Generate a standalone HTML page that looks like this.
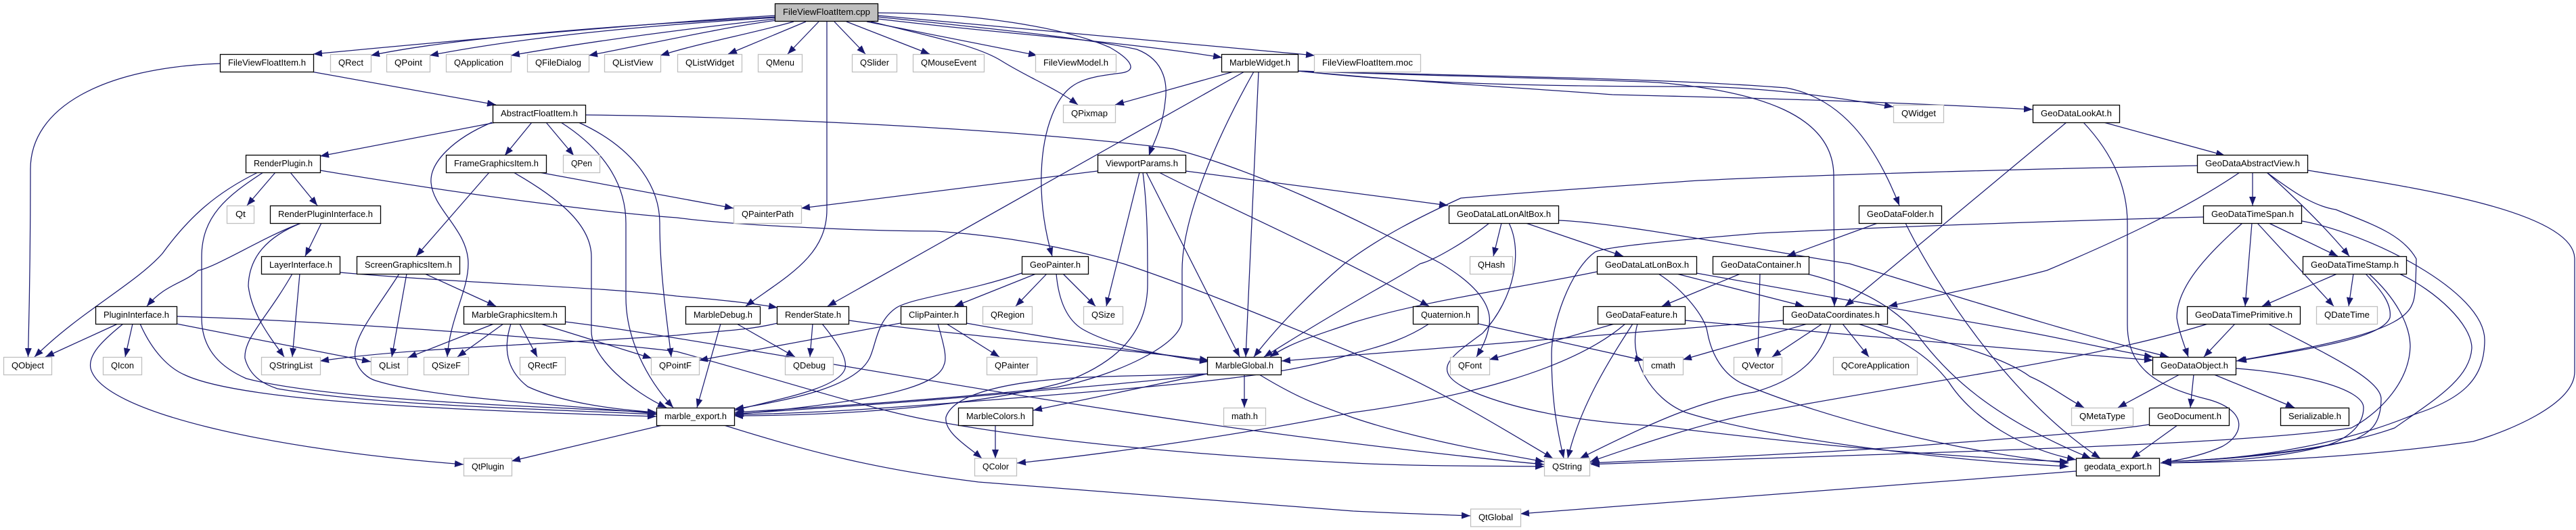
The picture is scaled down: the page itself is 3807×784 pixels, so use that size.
<!DOCTYPE html>
<html><head><meta charset="utf-8"><style>
html,body{margin:0;padding:0;background:#fff}
svg{display:block}
.e path{fill:none;stroke:#191970;stroke-width:1.25}
.d rect{fill:#fff;stroke:#000;stroke-width:1.3}
.x rect{fill:#fff;stroke:#bfbfbf;stroke-width:1.3}
text{font-family:"Liberation Sans",sans-serif;font-size:13px;text-anchor:middle;fill:#000;lengthAdjust:spacingAndGlyphs}
</style></head><body>
<svg xmlns="http://www.w3.org/2000/svg" width="3807" height="784" viewBox="0 0 3807 784">
<defs><marker id="a" markerUnits="userSpaceOnUse" markerWidth="14" markerHeight="10" refX="13" refY="5" orient="auto"><path d="M0,0 L13,5 L0,10 z" fill="#191970"/></marker></defs>
<g class="e" marker-end="url(#a)">
<!-- root -->
<path marker-end="url(#a)" d="M1146,23 C1000,31 650,62 463,80"/>
<path marker-end="url(#a)" d="M1146,25 C1000,33 700,50 548,82"/>
<path marker-end="url(#a)" d="M1146,26 C1000,35 800,50 635,82"/>
<path marker-end="url(#a)" d="M1146,28 C1020,42 880,60 755,82"/>
<path marker-end="url(#a)" d="M1148,30 C1070,40 960,65 870,82"/>
<path marker-end="url(#a)" d="M1173,32 C1110,50 1040,62 976,82"/>
<path marker-end="url(#a)" d="M1191,32 L1076,80"/>
<path marker-end="url(#a)" d="M1210,32 L1164,80"/>
<path marker-end="url(#a)" d="M1222,32 C1222,100 1222,250 1222,310 C1222,380 1160,410 1102,453"/>
<path marker-end="url(#a)" d="M1233,32 L1279,80"/>
<path marker-end="url(#a)" d="M1251,32 L1374,80"/>
<path marker-end="url(#a)" d="M1281,32 L1533,82"/>
<path marker-end="url(#a)" d="M1287,32 C1380,55 1445,68 1480,90 C1520,115 1560,130 1593,155"/>
<path marker-end="url(#a)" d="M1298,19 C1440,19 1570,40 1640,70 C1675,90 1680,105 1657,108 C1600,115 1575,120 1555,170 C1535,220 1532,300 1555,379"/>
<path marker-end="url(#a)" d="M1298,25 C1440,40 1600,55 1680,73 C1725,90 1725,130 1722,150 C1718,190 1705,210 1698,230"/>
<path marker-end="url(#a)" d="M1298,28 C1480,50 1650,60 1806,85"/>
<path marker-end="url(#a)" d="M1298,23 L1943,82"/>
<!-- FileViewFloatItem.h -->
<path marker-end="url(#a)" d="M325,94 C150,100 45,160 45,250 C45,350 44,430 41.5,528"/>
<path marker-end="url(#a)" d="M460,106 L733,155"/>
<!-- AbstractFloatItem.h -->
<path marker-end="url(#a)" d="M733,181 L473,231"/>
<path marker-end="url(#a)" d="M786,181 L746,230"/>
<path marker-end="url(#a)" d="M807,181 L848,230"/>
<path marker-end="url(#a)" d="M727,181 C670,205 635,240 637,270 C640,310 692,340 692,390 C692,430 665,470 661,528"/>
<path marker-end="url(#a)" d="M829,181 C890,220 925,270 925,330 L925,440 C925,500 955,560 995,603"/>
<path marker-end="url(#a)" d="M855,181 C930,215 975,270 975,330 C975,400 985,470 992,528"/>
<path marker-end="url(#a)" d="M865,170 C1100,172 1500,190 1733,220 C1850,250 2000,320 2130,390 C2180,420 2205,450 2201,480 C2198,500 2190,515 2182,528"/>
<!-- RenderPlugin.h -->
<path marker-end="url(#a)" d="M381,255 C320,285 280,320 240,375 C200,420 120,460 51,528"/>
<path marker-end="url(#a)" d="M389,255 C335,290 298,320 298,380 L298,470 C298,520 330,545 364,560 C480,590 750,600 970,610"/>
<path marker-end="url(#a)" d="M407,255 L365,304"/>
<path marker-end="url(#a)" d="M429,255 L469,304"/>
<path marker-end="url(#a)" d="M473,252 C700,290 900,315 1000,322 C1100,335 1300,342 1383,342 C1500,350 1590,370 1660,390 C1750,420 1850,460 2000,522 C2120,570 2230,640 2295,678"/>
<!-- RenderPluginInterface.h -->
<path marker-end="url(#a)" d="M475,330 L451,379"/>
<path marker-end="url(#a)" d="M445,330 C390,350 320,395 293,400 C270,420 245,420 217,453"/>
<path marker-end="url(#a)" d="M445,330 C395,350 368,380 367,423 C372,465 400,500 420,528"/>
<!-- LayerInterface.h -->
<path marker-end="url(#a)" d="M443,405 L432,528"/>
<path marker-end="url(#a)" d="M432,405 C395,470 360,500 362,530 C370,560 395,570 410,575 C560,600 800,605 970,613"/>
<path marker-end="url(#a)" d="M502,403 C700,420 900,425 1000,438 C1060,443 1110,448 1149,455"/>
<!-- ScreenGraphicsItem.h -->
<path marker-end="url(#a)" d="M601,405 L579,528"/>
<path marker-end="url(#a)" d="M590,405 C555,460 520,500 525,530 C530,550 545,560 555,563 C640,590 850,600 970,612"/>
<path marker-end="url(#a)" d="M628,405 L733,453"/>
<!-- MarbleGraphicsItem.h -->
<path marker-end="url(#a)" d="M730,479 L603,529"/>
<path marker-end="url(#a)" d="M744,479 L676,528"/>
<path marker-end="url(#a)" d="M755,479 C745,510 745,545 780,572 C830,595 900,605 970,610"/>
<path marker-end="url(#a)" d="M768,479 L794,528"/>
<path marker-end="url(#a)" d="M799,479 L963,530"/>
<path marker-end="url(#a)" d="M835,476 C1000,495 1500,590 1861,638 C1950,650 2150,675 2282,687"/>
<!-- FrameGraphicsItem.h -->
<path marker-end="url(#a)" d="M723,255 L615,379"/>
<path marker-end="url(#a)" d="M759,255 C820,290 874,330 874,380 L874,490 C874,530 935,580 985,603"/>
<path marker-end="url(#a)" d="M797,255 L1084,308"/>
<!-- PluginInterface.h -->
<path marker-end="url(#a)" d="M174,479 L67,528"/>
<path marker-end="url(#a)" d="M196,479 L185,528"/>
<path marker-end="url(#a)" d="M207,479 C225,520 250,545 274,555 C350,590 600,605 970,616"/>
<path marker-end="url(#a)" d="M182,479 C150,505 130,525 134,545 C150,610 400,665 685,687"/>
<path marker-end="url(#a)" d="M261,479 L548,535"/>
<path marker-end="url(#a)" d="M261,468 C500,475 880,505 1000,520 C1130,555 1300,610 1382,623 C1500,645 1700,670 2000,685 C2100,690 2200,689 2282,690"/>
<!-- ViewportParams.h -->
<path marker-end="url(#a)" d="M1622,253 L1184,308"/>
<path marker-end="url(#a)" d="M1684,255 L1635,453"/>
<path marker-end="url(#a)" d="M1689,255 C1696,310 1696,360 1696,420 C1696,500 1640,540 1574,565 C1450,600 1250,615 1085,615"/>
<path marker-end="url(#a)" d="M1694,255 L1832,528"/>
<path marker-end="url(#a)" d="M1713,255 C1800,300 1950,365 2112,453"/>
<path marker-end="url(#a)" d="M1752,253 C1850,265 2000,285 2140,304"/>
<!-- GeoPainter.h -->
<path marker-end="url(#a)" d="M1510,404 C1430,432 1350,440 1325,455 C1295,475 1295,510 1285,530 C1265,570 1180,590 1086,605"/>
<path marker-end="url(#a)" d="M1531,405 L1411,453"/>
<path marker-end="url(#a)" d="M1547,405 L1501,453"/>
<path marker-end="url(#a)" d="M1571,405 L1619,453"/>
<path marker-end="url(#a)" d="M1561,405 C1565,450 1580,475 1600,487 C1640,510 1710,525 1786,535"/>
<!-- ClipPainter.h -->
<path marker-end="url(#a)" d="M1331,478 L1033,533"/>
<path marker-end="url(#a)" d="M1386,479 C1395,510 1400,530 1395,540 C1385,575 1280,595 1086,613"/>
<path marker-end="url(#a)" d="M1399,479 L1477,528"/>
<path marker-end="url(#a)" d="M1428,478 C1550,500 1680,520 1786,533"/>
<!-- RenderState.h -->
<path marker-end="url(#a)" d="M1149,478 C1100,490 1050,490 1000,496 C800,510 600,515 473,534"/>
<path marker-end="url(#a)" d="M1201,479 L1197,528"/>
<path marker-end="url(#a)" d="M1215,479 C1240,510 1252,530 1249,545 C1240,575 1150,590 1086,607"/>
<path marker-end="url(#a)" d="M1255,474 C1400,495 1650,515 1786,533"/>
<!-- MarbleDebug.h -->
<path marker-end="url(#a)" d="M1089,479 L1175,528"/>
<path marker-end="url(#a)" d="M1065,479 L1030,603"/>
<!-- marble_export.h -->
<path marker-end="url(#a)" d="M979,629 L756,682"/>
<path marker-end="url(#a)" d="M1070,629 C1200,670 1300,695 1446,713 C1650,730 1850,745 2000,756 C2060,759 2120,761 2173,763"/>
<!-- MarbleGlobal.h -->
<path marker-end="url(#a)" d="M1784,553 C1700,565 1600,572 1510,580 C1350,595 1200,605 1086,612"/>
<path marker-end="url(#a)" d="M1784,553 C1700,556 1620,556 1574,560 C1500,565 1410,580 1398,617 C1395,640 1430,660 1451,678"/>
<path marker-end="url(#a)" d="M1784,553 L1527,607"/>
<path marker-end="url(#a)" d="M1861,554 C1920,590 1950,600 2000,618 C2080,645 2180,665 2282,683"/>
<path marker-end="url(#a)" d="M1839,554 L1839,603"/>
<!-- MarbleWidget.h -->
<path marker-end="url(#a)" d="M1823,106 L1648,155"/>
<path marker-end="url(#a)" d="M1839,106 L1223,453"/>
<path marker-end="url(#a)" d="M1860,106 L1841,528"/>
<path marker-end="url(#a)" d="M1853,106 C1800,200 1747,320 1747,400 L1747,473 C1747,510 1650,555 1561,573 C1400,590 1250,600 1086,610"/>
<path marker-end="url(#a)" d="M1918,105 C2100,125 2300,128 2510,128 C2620,130 2720,145 2798,158"/>
<path marker-end="url(#a)" d="M1918,105 C2100,122 2250,130 2383,140 C2500,143 2750,148 3004,162"/>
<path marker-end="url(#a)" d="M1918,105 C2150,112 2450,115 2640,130 C2720,145 2770,210 2807,304"/>
<path marker-end="url(#a)" d="M1918,105 C2100,112 2300,115 2450,122 C2600,135 2710,170 2710,260 L2711,453"/>
<!-- LatLonAltBox -->
<path marker-end="url(#a)" d="M2219,330 L2207,379"/>
<path marker-end="url(#a)" d="M2230,330 C2250,370 2240,440 2191,493 C2140,530 2110,550 2178,580 C2250,610 2350,625 2446,630 C2650,655 2850,675 3057,683"/>
<path marker-end="url(#a)" d="M2255,330 L2399,379"/>
<path marker-end="url(#a)" d="M2201,330 C2170,355 2120,385 2099,390 C2060,415 2000,445 1868,528"/>
<path marker-end="url(#a)" d="M2304,326 C2400,330 2600,370 2733,390 C2850,425 3050,490 3205,528"/>
<!-- LatLonBox -->
<path marker-end="url(#a)" d="M2360,402 C2250,425 2102,445 2000,477 C1950,495 1910,505 1877,528"/>
<path marker-end="url(#a)" d="M2478,405 L2666,453"/>
<path marker-end="url(#a)" d="M2507,404 C2650,430 2850,465 3000,492 C3070,505 3130,520 3182,528"/>
<path marker-end="url(#a)" d="M2451,405 C2490,430 2520,470 2523,490 C2530,530 2550,555 2574,567 C2700,620 2900,670 3057,685"/>
<!-- Container / Folder -->
<path marker-end="url(#a)" d="M2572,405 L2456,453"/>
<path marker-end="url(#a)" d="M2601,405 L2598,528"/>
<path marker-end="url(#a)" d="M2670,405 C2730,420 2790,445 2830,490 C2880,560 2950,620 3090,678"/>
<path marker-end="url(#a)" d="M2775,330 L2641,379"/>
<path marker-end="url(#a)" d="M2816,330 C2860,420 2970,590 3104,678"/>
<!-- Quaternion / Feature -->
<path marker-end="url(#a)" d="M2112,479 C2080,500 2050,510 2000,523 C1900,555 1800,565 1446,593 C1320,603 1200,612 1085,613"/>
<path marker-end="url(#a)" d="M2185,479 L2429,533"/>
<path marker-end="url(#a)" d="M2386,479 L2201,532"/>
<path marker-end="url(#a)" d="M2402,479 C2320,550 2150,590 2000,610 C1850,640 1650,670 1503,685"/>
<path marker-end="url(#a)" d="M2413,479 C2380,530 2335,600 2317,678"/>
<path marker-end="url(#a)" d="M2420,479 C2405,530 2440,590 2491,610 C2600,645 2850,680 3057,690"/>
<path marker-end="url(#a)" d="M2491,474 C2700,490 2950,515 3182,533"/>
<!-- Coordinates -->
<path marker-end="url(#a)" d="M2693,479 L2619,528"/>
<path marker-end="url(#a)" d="M2671,479 L2487,532"/>
<path marker-end="url(#a)" d="M2723,479 L2762,528"/>
<path marker-end="url(#a)" d="M2706,479 C2695,510 2680,555 2593,580 C2520,590 2440,625 2335,678"/>
<path marker-end="url(#a)" d="M2772,479 C2830,495 2950,520 3000,557 C3030,570 3055,590 3080,603"/>
<path marker-end="url(#a)" d="M2746,479 C2800,495 2850,525 2880,565 C2915,620 2990,665 3068,680"/>
<path marker-end="url(#a)" d="M2635,474 L1894,534"/>
<!-- LookAt -->
<path marker-end="url(#a)" d="M3109,181 L3288,230"/>
<path marker-end="url(#a)" d="M3054,181 L2727,453"/>
<path marker-end="url(#a)" d="M3079,181 C3125,230 3144,280 3144,330 L3144,480 C3144,540 3180,570 3260,590 C3320,605 3320,640 3285,660 C3260,672 3225,680 3193,685"/>
<!-- AbstractView -->
<path marker-end="url(#a)" d="M3247,245 C3000,250 2700,258 2510,267 C2350,278 2250,285 2159,293 C2100,320 2040,350 1987,390 C1940,430 1890,480 1853,528"/>
<path marker-end="url(#a)" d="M3329,255 L3329,304"/>
<path marker-end="url(#a)" d="M3350,255 C3400,300 3440,340 3472,379"/>
<path marker-end="url(#a)" d="M3350,255 C3390,285 3420,305 3452,310 C3500,330 3550,345 3571,383 C3570,420 3570,440 3565,450 C3550,490 3440,510 3305,534"/>
<path marker-end="url(#a)" d="M3310,255 C3230,310 3120,360 3025,400 C2950,420 2870,435 2791,453"/>
<path marker-end="url(#a)" d="M3411,252 C3550,275 3805,310 3805,383 L3805,550 C3805,600 3700,640 3655,653 C3500,675 3350,683 3196,685"/>
<!-- TimeSpan -->
<path marker-end="url(#a)" d="M3353,330 L3455,379"/>
<path marker-end="url(#a)" d="M3328,330 L3318,453"/>
<path marker-end="url(#a)" d="M3336,330 L3449,453"/>
<path marker-end="url(#a)" d="M3314,330 C3270,370 3217,420 3217,470 C3220,490 3228,510 3234,528"/>
<path marker-end="url(#a)" d="M3257,321 C3100,325 2800,335 2600,345 C2480,355 2370,365 2357,373 C2320,400 2293,480 2293,523 C2293,590 2300,630 2311,678"/>
<path marker-end="url(#a)" d="M3402,327 C3500,345 3672,430 3672,503 C3672,560 3640,590 3568,613 C3480,650 3350,680 3196,683"/>
<!-- TimeStamp -->
<path marker-end="url(#a)" d="M3454,405 L3343,453"/>
<path marker-end="url(#a)" d="M3478,405 L3471,453"/>
<path marker-end="url(#a)" d="M3496,405 C3520,430 3535,450 3532,470 C3520,500 3420,515 3307,534"/>
<path marker-end="url(#a)" d="M3501,405 C3540,440 3562,480 3562,513 C3560,570 3510,615 3475,633 C3300,660 2800,670 2351,687"/>
<path marker-end="url(#a)" d="M3546,405 C3600,430 3653,480 3653,515 C3650,560 3600,590 3539,633 C3450,665 3300,680 3196,683"/>
<!-- TimePrimitive -->
<path marker-end="url(#a)" d="M3303,479 L3257,528"/>
<path marker-end="url(#a)" d="M3263,479 C3100,530 2900,555 2600,610 C2520,625 2430,655 2350,683"/>
<path marker-end="url(#a)" d="M3352,479 C3430,520 3519,560 3519,590 C3519,630 3500,640 3481,650 C3400,670 3300,680 3196,683"/>
<!-- GeoDataObject -->
<path marker-end="url(#a)" d="M3221,554 L3130,603"/>
<path marker-end="url(#a)" d="M3242,554 L3237,603"/>
<path marker-end="url(#a)" d="M3272,554 L3391,603"/>
<path marker-end="url(#a)" d="M3305,545 C3400,552 3493,575 3493,603 C3493,635 3460,655 3423,663 C3350,680 3270,683 3196,685"/>
<!-- GeoDocument -->
<path marker-end="url(#a)" d="M3176,628 C3100,640 2950,650 2800,662 C2600,675 2450,680 2350,685"/>
<path marker-end="url(#a)" d="M3218,629 L3150,678"/>
<path marker-end="url(#a)" d="M3068,697 L2247,760"/>
<path marker-end="url(#a)" d="M1471,629 L1471,678"/>
</g>
<g class="x">
<rect x="488.5" y="80.5" width="60" height="26"/><text x="518.5" y="97" textLength="37" lengthAdjust="spacingAndGlyphs">QRect</text>
<rect x="571.5" y="80.5" width="64" height="26"/><text x="603.5" y="97" textLength="41" lengthAdjust="spacingAndGlyphs">QPoint</text>
<rect x="659.5" y="80.5" width="96" height="26"/><text x="707.5" y="97" textLength="73" lengthAdjust="spacingAndGlyphs">QApplication</text>
<rect x="779.5" y="80.5" width="91" height="26"/><text x="825" y="97" textLength="68" lengthAdjust="spacingAndGlyphs">QFileDialog</text>
<rect x="893.5" y="80.5" width="83" height="26"/><text x="935" y="97" textLength="60" lengthAdjust="spacingAndGlyphs">QListView</text>
<rect x="1001.5" y="80.5" width="95" height="26"/><text x="1049" y="97" textLength="72" lengthAdjust="spacingAndGlyphs">QListWidget</text>
<rect x="1120.5" y="80.5" width="65" height="26"/><text x="1153" y="97" textLength="42" lengthAdjust="spacingAndGlyphs">QMenu</text>
<rect x="1259.5" y="80.5" width="66" height="26"/><text x="1292.5" y="97" textLength="43" lengthAdjust="spacingAndGlyphs">QSlider</text>
<rect x="1349.5" y="80.5" width="105" height="26"/><text x="1402" y="97" textLength="82" lengthAdjust="spacingAndGlyphs">QMouseEvent</text>
<rect x="1530.5" y="80.5" width="119" height="26"/><text x="1590" y="97" textLength="96" lengthAdjust="spacingAndGlyphs">FileViewModel.h</text>
<rect x="1942.5" y="80.5" width="157" height="26"/><text x="2021" y="97" textLength="134" lengthAdjust="spacingAndGlyphs">FileViewFloatItem.moc</text>
<rect x="1571.5" y="155.5" width="77" height="26"/><text x="1610" y="172" textLength="54" lengthAdjust="spacingAndGlyphs">QPixmap</text>
<rect x="2798.5" y="155.5" width="74" height="26"/><text x="2835.5" y="172" textLength="51" lengthAdjust="spacingAndGlyphs">QWidget</text>
<rect x="832.5" y="229.5" width="54" height="26"/><text x="859.5" y="246" textLength="31" lengthAdjust="spacingAndGlyphs">QPen</text>
<rect x="335.5" y="304.5" width="40" height="26"/><text x="355.5" y="321" textLength="15" lengthAdjust="spacingAndGlyphs">Qt</text>
<rect x="1084.5" y="304.5" width="100" height="26"/><text x="1134.5" y="321" textLength="77" lengthAdjust="spacingAndGlyphs">QPainterPath</text>
<rect x="2172.5" y="379.5" width="63" height="26"/><text x="2204" y="396" textLength="40" lengthAdjust="spacingAndGlyphs">QHash</text>
<rect x="1452.5" y="453.5" width="73" height="26"/><text x="1489" y="470" textLength="50" lengthAdjust="spacingAndGlyphs">QRegion</text>
<rect x="1601.5" y="453.5" width="58" height="26"/><text x="1630.5" y="470" textLength="35" lengthAdjust="spacingAndGlyphs">QSize</text>
<rect x="3423.5" y="453.5" width="90" height="26"/><text x="3468.5" y="470" textLength="67" lengthAdjust="spacingAndGlyphs">QDateTime</text>
<rect x="5.5" y="528.5" width="71" height="26"/><text x="41" y="545" textLength="48" lengthAdjust="spacingAndGlyphs">QObject</text>
<rect x="152.5" y="528.5" width="57" height="26"/><text x="181" y="545" textLength="34" lengthAdjust="spacingAndGlyphs">QIcon</text>
<rect x="386.5" y="528.5" width="87" height="26"/><text x="430" y="545" textLength="64" lengthAdjust="spacingAndGlyphs">QStringList</text>
<rect x="548.5" y="528.5" width="54" height="26"/><text x="575.5" y="545" textLength="31" lengthAdjust="spacingAndGlyphs">QList</text>
<rect x="626.5" y="528.5" width="66" height="26"/><text x="659.5" y="545" textLength="43" lengthAdjust="spacingAndGlyphs">QSizeF</text>
<rect x="768.5" y="528.5" width="67" height="26"/><text x="802" y="545" textLength="44" lengthAdjust="spacingAndGlyphs">QRectF</text>
<rect x="962.5" y="528.5" width="71" height="26"/><text x="998" y="545" textLength="48" lengthAdjust="spacingAndGlyphs">QPointF</text>
<rect x="1160.5" y="528.5" width="71" height="26"/><text x="1196" y="545" textLength="48" lengthAdjust="spacingAndGlyphs">QDebug</text>
<rect x="1458.5" y="528.5" width="74" height="26"/><text x="1495.5" y="545" textLength="51" lengthAdjust="spacingAndGlyphs">QPainter</text>
<rect x="2143.5" y="528.5" width="58" height="26"/><text x="2172.5" y="545" textLength="35" lengthAdjust="spacingAndGlyphs">QFont</text>
<rect x="2428.5" y="528.5" width="59" height="26"/><text x="2458" y="545" textLength="36" lengthAdjust="spacingAndGlyphs">cmath</text>
<rect x="2562.5" y="528.5" width="71" height="26"/><text x="2598" y="545" textLength="48" lengthAdjust="spacingAndGlyphs">QVector</text>
<rect x="2709.5" y="528.5" width="124" height="26"/><text x="2771.5" y="545" textLength="101" lengthAdjust="spacingAndGlyphs">QCoreApplication</text>
<rect x="1808.5" y="603.5" width="62" height="26"/><text x="1839.5" y="620" textLength="39" lengthAdjust="spacingAndGlyphs">math.h</text>
<rect x="3061.5" y="603.5" width="91" height="26"/><text x="3107" y="620" textLength="68" lengthAdjust="spacingAndGlyphs">QMetaType</text>
<rect x="685.5" y="678" width="71" height="26"/><text x="721" y="694.5" textLength="48" lengthAdjust="spacingAndGlyphs">QtPlugin</text>
<rect x="1440.5" y="678" width="62" height="26"/><text x="1471.5" y="694.5" textLength="39" lengthAdjust="spacingAndGlyphs">QColor</text>
<rect x="2282.5" y="678" width="67" height="26"/><text x="2316" y="694.5" textLength="44" lengthAdjust="spacingAndGlyphs">QString</text>
<rect x="2173.5" y="753" width="74" height="26"/><text x="2210.5" y="769.5" textLength="51" lengthAdjust="spacingAndGlyphs">QtGlobal</text>
</g>
<g class="d">
<rect x="1145.5" y="5.5" width="152" height="26" style="fill:#bfbfbf"/><text x="1221.5" y="22" textLength="129" lengthAdjust="spacingAndGlyphs">FileViewFloatItem.cpp</text>
<rect x="325.5" y="80.5" width="138" height="26"/><text x="394.5" y="97" textLength="115" lengthAdjust="spacingAndGlyphs">FileViewFloatItem.h</text>
<rect x="1805.5" y="80.5" width="113" height="26"/><text x="1862" y="97" textLength="90" lengthAdjust="spacingAndGlyphs">MarbleWidget.h</text>
<rect x="728.5" y="155.5" width="137" height="26"/><text x="797" y="172" textLength="114" lengthAdjust="spacingAndGlyphs">AbstractFloatItem.h</text>
<rect x="3004.5" y="155.5" width="128" height="26"/><text x="3068.5" y="172" textLength="105" lengthAdjust="spacingAndGlyphs">GeoDataLookAt.h</text>
<rect x="363.5" y="229.5" width="110" height="26"/><text x="418.5" y="246" textLength="87" lengthAdjust="spacingAndGlyphs">RenderPlugin.h</text>
<rect x="659.5" y="229.5" width="148" height="26"/><text x="733.5" y="246" textLength="125" lengthAdjust="spacingAndGlyphs">FrameGraphicsItem.h</text>
<rect x="1622.5" y="229.5" width="130" height="26"/><text x="1687.5" y="246" textLength="107" lengthAdjust="spacingAndGlyphs">ViewportParams.h</text>
<rect x="3247.5" y="229.5" width="163" height="26"/><text x="3329" y="246" textLength="140" lengthAdjust="spacingAndGlyphs">GeoDataAbstractView.h</text>
<rect x="399.5" y="304.5" width="163" height="26"/><text x="481" y="321" textLength="140" lengthAdjust="spacingAndGlyphs">RenderPluginInterface.h</text>
<rect x="2141.5" y="304.5" width="162" height="26"/><text x="2222.5" y="321" textLength="139" lengthAdjust="spacingAndGlyphs">GeoDataLatLonAltBox.h</text>
<rect x="2747.5" y="304.5" width="122" height="26"/><text x="2808.5" y="321" textLength="99" lengthAdjust="spacingAndGlyphs">GeoDataFolder.h</text>
<rect x="3256.5" y="304.5" width="145" height="26"/><text x="3329" y="321" textLength="122" lengthAdjust="spacingAndGlyphs">GeoDataTimeSpan.h</text>
<rect x="386.5" y="379.5" width="116" height="26"/><text x="444.5" y="396" textLength="93" lengthAdjust="spacingAndGlyphs">LayerInterface.h</text>
<rect x="527.5" y="379.5" width="152" height="26"/><text x="603.5" y="396" textLength="129" lengthAdjust="spacingAndGlyphs">ScreenGraphicsItem.h</text>
<rect x="1510.5" y="379.5" width="98" height="26"/><text x="1559.5" y="396" textLength="75" lengthAdjust="spacingAndGlyphs">GeoPainter.h</text>
<rect x="2360.5" y="379.5" width="147" height="26"/><text x="2434" y="396" textLength="124" lengthAdjust="spacingAndGlyphs">GeoDataLatLonBox.h</text>
<rect x="2531.5" y="379.5" width="142" height="26"/><text x="2602.5" y="396" textLength="119" lengthAdjust="spacingAndGlyphs">GeoDataContainer.h</text>
<rect x="3403.5" y="379.5" width="153" height="26"/><text x="3480" y="396" textLength="130" lengthAdjust="spacingAndGlyphs">GeoDataTimeStamp.h</text>
<rect x="141.5" y="453.5" width="120" height="26"/><text x="201.5" y="470" textLength="97" lengthAdjust="spacingAndGlyphs">PluginInterface.h</text>
<rect x="685.5" y="453.5" width="150" height="26"/><text x="760.5" y="470" textLength="127" lengthAdjust="spacingAndGlyphs">MarbleGraphicsItem.h</text>
<rect x="1013.5" y="453.5" width="110" height="26"/><text x="1068.5" y="470" textLength="87" lengthAdjust="spacingAndGlyphs">MarbleDebug.h</text>
<rect x="1148.5" y="453.5" width="106" height="26"/><text x="1201.5" y="470" textLength="83" lengthAdjust="spacingAndGlyphs">RenderState.h</text>
<rect x="1331.5" y="453.5" width="97" height="26"/><text x="1380" y="470" textLength="74" lengthAdjust="spacingAndGlyphs">ClipPainter.h</text>
<rect x="2088.5" y="453.5" width="96" height="26"/><text x="2136.5" y="470" textLength="73" lengthAdjust="spacingAndGlyphs">Quaternion.h</text>
<rect x="2361.5" y="453.5" width="129" height="26"/><text x="2426" y="470" textLength="106" lengthAdjust="spacingAndGlyphs">GeoDataFeature.h</text>
<rect x="2635.5" y="453.5" width="154" height="26"/><text x="2712.5" y="470" textLength="131" lengthAdjust="spacingAndGlyphs">GeoDataCoordinates.h</text>
<rect x="3232.5" y="453.5" width="167" height="26"/><text x="3316" y="470" textLength="144" lengthAdjust="spacingAndGlyphs">GeoDataTimePrimitive.h</text>
<rect x="1784.5" y="528.5" width="109" height="26"/><text x="1839" y="545" textLength="86" lengthAdjust="spacingAndGlyphs">MarbleGlobal.h</text>
<rect x="3181.5" y="528.5" width="123" height="26"/><text x="3243" y="545" textLength="100" lengthAdjust="spacingAndGlyphs">GeoDataObject.h</text>
<rect x="970.5" y="603.5" width="115" height="26"/><text x="1028" y="620" textLength="92" lengthAdjust="spacingAndGlyphs">marble_export.h</text>
<rect x="1416.5" y="603.5" width="110" height="26"/><text x="1471.5" y="620" textLength="87" lengthAdjust="spacingAndGlyphs">MarbleColors.h</text>
<rect x="3176.5" y="603.5" width="118" height="26"/><text x="3235.5" y="620" textLength="95" lengthAdjust="spacingAndGlyphs">GeoDocument.h</text>
<rect x="3370.5" y="603.5" width="101" height="26"/><text x="3421" y="620" textLength="78" lengthAdjust="spacingAndGlyphs">Serializable.h</text>
<rect x="3068.5" y="678" width="123" height="26"/><text x="3130" y="694.5" textLength="100" lengthAdjust="spacingAndGlyphs">geodata_export.h</text>
</g>
</svg>
</body></html>
